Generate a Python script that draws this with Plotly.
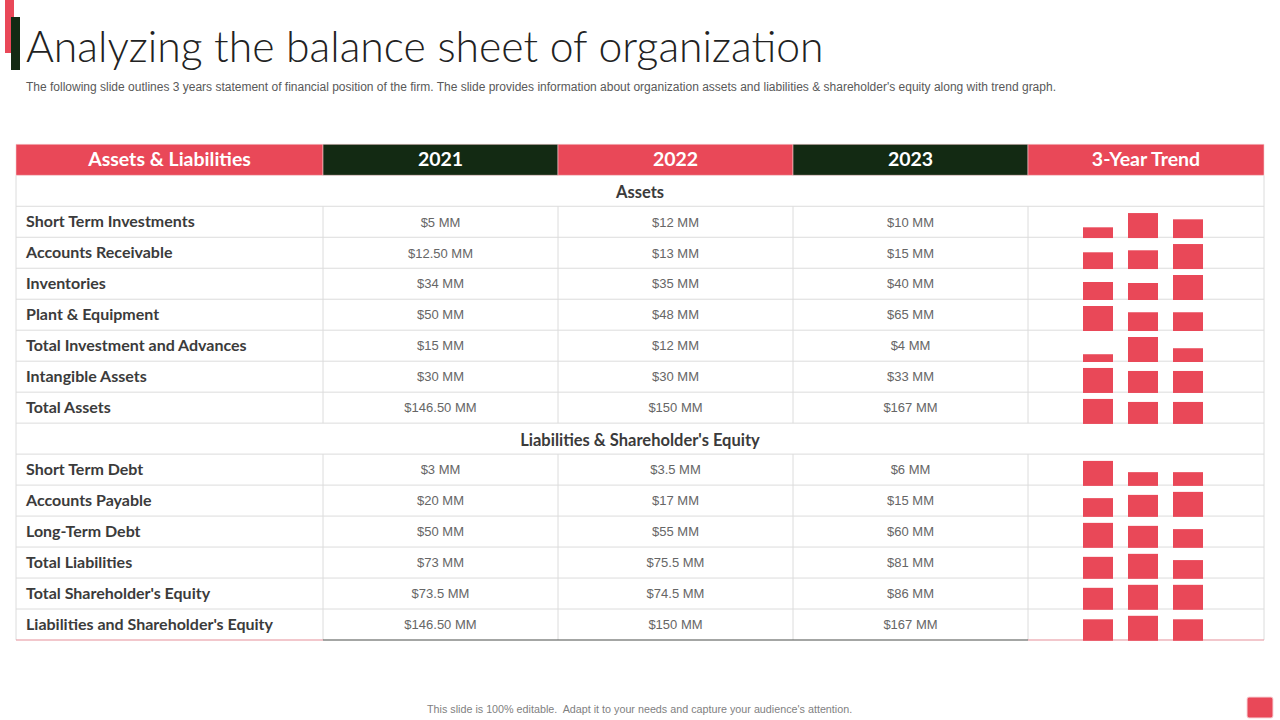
import plotly.graph_objects as go

RED = "#E94858"
DARK = "#132A13"
GRID = "#DCDCDC"

title = "Analyzing the balance sheet of organization"
subtitle = ("The following slide outlines 3 years statement of financial position of the firm. The slide provides "
            "information about organization assets and liabilities & shareholder's equity along with trend graph.")
footer = "This slide is 100% editable.  Adapt it to your needs and capture your audience's attention."

headers = ["Assets & Liabilities", "2021", "2022", "2023", "3-Year Trend"]
header_fills = [RED, DARK, RED, DARK, RED]

rows = ["Assets", "Short Term Investments", "Accounts Receivable", "Inventories", "Plant & Equipment",
        "Total Investment and Advances", "Intangible Assets", "Total Assets",
        "Liabilities & Shareholder's Equity", "Short Term Debt", "Accounts Payable", "Long-Term Debt",
        "Total Liabilities", "Total Shareholder's Equity", "Liabilities and Shareholder's Equity"]
section_rows = [0, 8]

vals_2021 = ["", "$5 MM", "$12.50 MM", "$34 MM", "$50 MM", "$15 MM", "$30 MM", "$146.50 MM",
             "", "$3 MM", "$20 MM", "$50 MM", "$73 MM", "$73.5 MM", "$146.50 MM"]
vals_2022 = ["", "$12 MM", "$13 MM", "$35 MM", "$48 MM", "$12 MM", "$30 MM", "$150 MM",
             "", "$3.5 MM", "$17 MM", "$55 MM", "$75.5 MM", "$74.5 MM", "$150 MM"]
vals_2023 = ["", "$10 MM", "$15 MM", "$40 MM", "$65 MM", "$4 MM", "$33 MM", "$167 MM",
             "", "$6 MM", "$15 MM", "$60 MM", "$81 MM", "$86 MM", "$167 MM"]

# Trend bar heights, percent of the tallest bar in each row
trend_2021 = [None, 43, 67, 72, 100, 31, 100, 100, None, 100, 75, 100, 88, 88, 86]
trend_2022 = [None, 100, 75, 68, 75, 100, 88, 88, None, 55, 88, 88, 100, 100, 100]
trend_2023 = [None, 75, 100, 100, 75, 55, 88, 88, None, 55, 100, 75, 75, 100, 86]

# Layout geometry (pixels of the 1280x720 slide)
col_edges = [16, 323, 558, 793, 1028, 1264]
head_top = 144.3
head_bot = 175.3
row_h = 30.98
bar_full = 25
bar_w = 30
bar_centers = [1098, 1143, 1188]
row_tops = [head_bot + row_h * i for i in range(len(rows))]
row_mid = [t + row_h / 2 for t in row_tops]
row_bot = [t + row_h for t in row_tops]
col_mid = [(a + b) / 2 for a, b in zip(col_edges, col_edges[1:])]

fig = go.Figure()

shapes = []
# top-left accent
shapes.append(dict(type="rect", x0=5, x1=14, y0=0, y1=53, fillcolor=RED, line_width=0, layer="below"))
shapes.append(dict(type="rect", x0=11, x1=20, y0=17, y1=70, fillcolor=DARK, line_width=0, layer="below"))
# header cells
for i, c in enumerate(header_fills):
    shapes.append(dict(type="rect", x0=col_edges[i], x1=col_edges[i + 1], y0=head_top, y1=head_bot,
                       fillcolor=c, line=dict(color="#F5C9CE", width=0.6), layer="below"))
# horizontal grid lines
for i, y in enumerate(row_bot[:-1]):
    shapes.append(dict(type="line", x0=col_edges[0], x1=col_edges[-1], y0=y, y1=y,
                       line=dict(color=GRID, width=1), layer="below"))
# outer + column lines
for x in (col_edges[0], col_edges[-1]):
    shapes.append(dict(type="line", x0=x, x1=x, y0=head_bot, y1=row_bot[-1],
                       line=dict(color=GRID, width=1), layer="below"))
for i, x in enumerate(col_edges[1:-1]):
    for r in range(len(rows)):
        if r in section_rows:
            continue
        shapes.append(dict(type="line", x0=x, x1=x, y0=row_tops[r], y1=row_bot[r],
                           line=dict(color=GRID, width=1), layer="below"))
# bottom rule
bottom_cols = ["#E58F99", "#4A4F4A", "#4A4F4A", "#4A4F4A", "#E58F99"]
for i, c in enumerate(bottom_cols):
    shapes.append(dict(type="line", x0=col_edges[i], x1=col_edges[i + 1], y0=row_bot[-1], y1=row_bot[-1],
                       line=dict(color=c, width=1.2), layer="below"))
# footer button
shapes.append(dict(type="path", path="M1249,697 L1271,697 Q1273,697 1273,699 L1273,716 Q1273,718 1271,718 "
                                     "L1249,718 Q1247,718 1247,716 L1247,699 Q1247,697 1249,697 Z",
                   fillcolor=RED, line=dict(color="#F8D5D9", width=1), layer="below"))

# trend bars
for series, cx in zip((trend_2021, trend_2022, trend_2023), bar_centers):
    idx = [i for i, v in enumerate(series) if v is not None]
    fig.add_trace(go.Bar(x=[cx] * len(idx),
                         y=[-series[i] / 100 * bar_full for i in idx],
                         base=[row_bot[i] + 0.8 for i in idx],
                         width=bar_w, marker=dict(color=RED, line_width=0),
                         showlegend=False, hoverinfo="skip"))

# table body text
body_rows = [i for i in range(len(rows)) if i not in section_rows]
LABEL_FONT = "Lato"
fig.add_trace(go.Scatter(x=[26] * len(body_rows), y=[row_mid[i] + 1.5 for i in body_rows],
                         text=[rows[i] for i in body_rows], mode="text", textposition="middle right",
                         textfont=dict(family=LABEL_FONT, size=16, color="#3B3B3B", weight=700),
                         showlegend=False, hoverinfo="skip"))
fig.add_trace(go.Scatter(x=[(col_edges[-1] + col_edges[0]) / 2] * len(section_rows),
                         y=[row_mid[i] + 3 for i in section_rows],
                         text=[rows[i] for i in section_rows], mode="text", textposition="middle center",
                         textfont=dict(family=LABEL_FONT, size=16.5, color="#3B3B3B", weight=700),
                         showlegend=False, hoverinfo="skip"))
for series, cx in zip((vals_2021, vals_2022, vals_2023), col_mid[1:4]):
    fig.add_trace(go.Scatter(x=[cx] * len(body_rows), y=[row_mid[i] + 1.5 for i in body_rows],
                             text=[series[i] for i in body_rows], mode="text", textposition="middle center",
                             textfont=dict(family="Liberation Sans", size=13, color="#666666"),
                             showlegend=False, hoverinfo="skip"))
# header text
fig.add_trace(go.Scatter(x=col_mid, y=[(head_top + head_bot) / 2 + 1] * len(headers), text=headers,
                         mode="text", textposition="middle center",
                         textfont=dict(family=LABEL_FONT, size=19.5, color="white", weight=700),
                         showlegend=False, hoverinfo="skip"))

annotations = [
    dict(x=24, y=45, text=title, xanchor="left", yanchor="middle", showarrow=False,
         font=dict(family="Lato", size=42.7, color="#222222", weight=300)),
    dict(x=24, y=87, text=subtitle, xanchor="left", yanchor="middle", showarrow=False,
         font=dict(family="Liberation Sans", size=12, color="#595959")),
    dict(x=639.5, y=709, text=footer, xanchor="center", yanchor="middle", showarrow=False,
         font=dict(family="Liberation Sans", size=10.75, color="#7F7F7F")),
]

fig.update_layout(
    width=1280, height=720, margin=dict(l=0, r=0, t=0, b=0, pad=0),
    paper_bgcolor="white", plot_bgcolor="white", showlegend=False, barmode="overlay",
    xaxis=dict(range=[0, 1280], visible=False, fixedrange=True),
    yaxis=dict(range=[720, 0], visible=False, fixedrange=True),
    shapes=shapes, annotations=annotations,
)
fig.write_html("out.html", config={"displayModeBar": False},
               post_script="document.body.style.margin='0';document.body.style.overflow='hidden';")
